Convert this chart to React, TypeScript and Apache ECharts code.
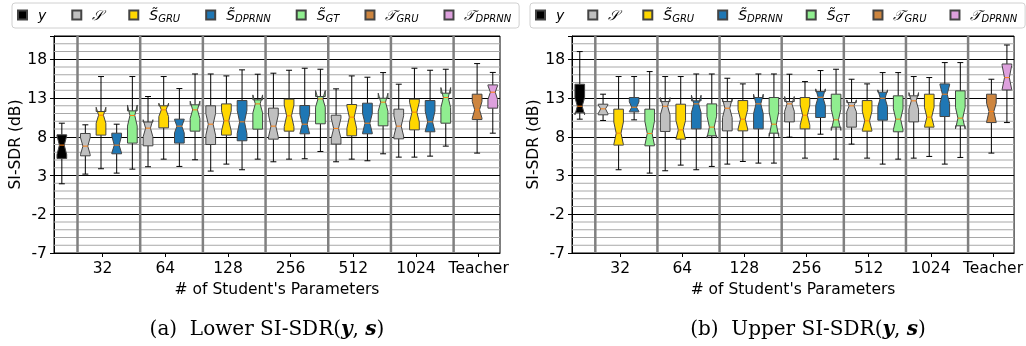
import React, { useEffect, useRef } from 'react';
import * as echarts from 'echarts';

// ---------- axis / layout data ----------
const groupLabels = ['32', '64', '128', '256', '512', '1024', 'Teacher'];
const tickPositions = [3.1, 7.1, 11.1, 15.1, 19.1, 23.1, 27.1];
const separatorPositions = [1.5, 5.5, 9.5, 13.5, 17.5, 21.5, 25.5];
const mixturePosition = [0.5];
const studentGroupStart = [2, 6, 10, 14, 18, 22]; // S, S_GRU, S_DPRNN, S_GT at +0,+1,+2,+3
const teacherPositions = [27, 28];
const minorGridValues = [-6, -5, -4, -3, -1, 0, 1, 2, 4, 5, 6, 7, 9, 10, 11, 12, 14, 15, 16, 17, 19, 20];
const X_MIN = 0;
const X_MAX = 28.46;
const Y_MIN = -7;
const Y_MAX = 21;

// stats per box: [whiskerLow, q1, median, q3, whiskerHigh, notchLow, notchHigh]
// ---------- (a) Lower SI-SDR ----------
const lowerY = [[1.93, 5.2, 6.92, 8.25, 9.75, 5.7, 8.1]];
const lowerS = [
  [3.18, 5.54, 6.79, 8.42, 9.54, 5.7, 7.9],
  [4.13, 6.83, 9.11, 9.9, 13.19, 8.0, 10.2],
  [3.57, 7.0, 9.62, 11.99, 16.1, 8.2, 11.0],
  [4.77, 7.69, 9.37, 11.69, 16.2, 8.0, 10.8],
  [4.77, 7.05, 9.07, 10.78, 14.18, 7.8, 10.4],
  [5.37, 7.73, 9.37, 11.56, 14.78, 8.1, 10.7],
];
const lowerSGRU = [
  [3.87, 8.21, 10.78, 11.26, 15.77, 9.75, 11.81],
  [5.11, 9.15, 11.47, 11.99, 15.77, 10.6, 12.33],
  [4.47, 8.21, 10.05, 12.24, 15.85, 8.75, 11.35],
  [5.11, 8.72, 10.7, 12.85, 16.58, 9.3, 12.1],
  [5.11, 8.12, 10.53, 12.16, 15.85, 9.1, 11.9],
  [5.37, 8.89, 11.17, 12.85, 16.84, 9.9, 12.45],
];
const lowerSDPRNN = [
  [3.31, 5.8, 6.92, 8.46, 9.62, 5.9, 8.1],
  [4.17, 7.18, 9.37, 10.27, 14.22, 8.5, 10.2],
  [3.74, 7.48, 9.92, 12.67, 16.63, 8.4, 11.4],
  [5.16, 8.38, 9.62, 12.03, 16.84, 8.4, 10.9],
  [4.9, 8.38, 9.75, 12.33, 15.68, 8.5, 11.0],
  [5.5, 8.64, 9.92, 12.67, 16.58, 8.7, 11.3],
];
const lowerSGT = [
  [3.82, 7.18, 10.74, 11.34, 15.77, 9.38, 12.1],
  [5.03, 8.72, 11.47, 12.12, 16.1, 10.35, 12.59],
  [5.11, 8.98, 12.24, 12.76, 16.07, 11.08, 13.4],
  [6.1, 9.67, 12.89, 13.19, 16.71, 11.82, 13.96],
  [5.8, 9.41, 12.46, 12.97, 16.28, 11.3, 13.62],
  [6.79, 9.75, 13.06, 13.62, 16.71, 11.77, 14.35],
];
const lowerTGRU = [[5.89, 10.22, 11.47, 13.49, 17.44, 10.4, 12.54]];
const lowerTDPRNN = [[8.46, 11.69, 13.75, 14.69, 16.3, 12.8, 14.6]];

// ---------- (b) Upper SI-SDR ----------
const upperY = [[10.27, 11.1, 11.94, 14.78, 18.99, 10.83, 13.05]];
const upperS = [
  [10.1, 10.83, 11.6, 12.2, 13.49, 11.0, 12.1],
  [3.61, 8.68, 11.94, 12.54, 15.77, 10.82, 13.06],
  [4.47, 8.76, 11.68, 12.54, 15.55, 10.47, 12.89],
  [7.95, 9.92, 12.24, 12.54, 16.07, 11.29, 13.19],
  [7.05, 9.24, 11.99, 12.42, 15.42, 11.22, 12.76],
  [5.24, 9.92, 12.63, 13.28, 15.77, 11.56, 13.7],
];
const upperSGRU = [
  [3.74, 6.92, 8.46, 11.56, 15.77, 7.0, 9.9],
  [4.34, 7.69, 8.89, 12.2, 15.77, 7.7, 10.1],
  [4.81, 8.76, 10.27, 12.67, 14.82, 9.0, 11.5],
  [5.24, 9.02, 10.78, 13.06, 15.12, 9.5, 12.1],
  [5.24, 8.72, 10.05, 12.67, 14.82, 8.8, 11.3],
  [5.46, 9.24, 10.53, 13.49, 15.64, 9.3, 11.8],
];
const upperSDPRNN = [
  [10.18, 11.21, 11.81, 13.06, 15.77, 11.25, 12.5],
  [3.74, 9.02, 12.24, 12.63, 16.1, 11.12, 13.36],
  [4.6, 9.02, 12.24, 13.06, 16.1, 10.99, 13.49],
  [8.33, 10.48, 13.1, 13.83, 16.54, 12.02, 14.18],
  [4.47, 10.14, 12.97, 13.75, 16.28, 11.89, 14.05],
  [4.47, 10.61, 13.49, 14.82, 17.57, 12.3, 14.7],
];
const upperSGT = [
  [3.31, 6.83, 8.42, 11.56, 16.41, 6.9, 10.0],
  [4.17, 8.12, 9.24, 12.24, 16.1, 7.82, 10.66],
  [4.6, 8.46, 9.62, 13.06, 16.1, 8.03, 11.21],
  [5.11, 9.24, 10.18, 13.49, 16.71, 8.81, 11.55],
  [5.11, 8.64, 10.27, 13.28, 16.28, 8.9, 11.6],
  [5.33, 9.41, 10.4, 13.92, 17.57, 9.02, 11.78],
];
const upperTGRU = [[5.89, 9.83, 11.25, 13.49, 15.42, 9.9, 12.33]];
const upperTDPRNN = [[9.83, 14.04, 15.63, 17.39, 19.84, 14.1, 17.2]];

// ---------- series definitions ----------
const seriesNames = ['y', 'S', 'S_GRU', 'S_DPRNN', 'S_GT', 'T_GRU', 'T_DPRNN'];
const seriesColors = ['#000000', '#c0c0c0', '#ffd700', '#1f77b4', '#90ee90', '#cd853f', '#dda0dd'];
const legendRich: Record<string, string> = {
  y: '{it|y}',
  S: '{cal|𝒮}',
  S_GRU: '{it|S\u0303}{sub|GRU}',
  S_DPRNN: '{it|S\u0303}{sub|DPRNN}',
  S_GT: '{it|S\u0303}{sub|GT}',
  T_GRU: '{cal|𝒯}{sub|GRU}',
  T_DPRNN: '{cal|𝒯}{sub|DPRNN}',
};

const BOX_W = 0.62;
const CAP_W = 0.38;
const EDGE = '#444444';

function positionsFor(typeIdx: number, count: number): number[] {
  if (typeIdx === 0) return mixturePosition;
  if (typeIdx >= 5) return [teacherPositions[typeIdx - 5]];
  return studentGroupStart.slice(0, count).map((s) => s + (typeIdx - 1));
}

function boxRender(color: string) {
  return (params: any, api: any) => {
    const x = api.value(0);
    const lo = api.value(1), q1 = api.value(2), med = api.value(3), q3 = api.value(4), hi = api.value(5);
    const nLo = api.value(6), nHi = api.value(7);
    const p = (xx: number, yy: number) => api.coord([xx, yy]);
    const L = x - BOX_W / 2, R = x + BOX_W / 2, cl = x - BOX_W / 4, cr = x + BOX_W / 4;
    const kL = x - CAP_W / 2, kR = x + CAP_W / 2;
    const pts = [p(L, q1), p(L, nLo), p(cl, med), p(L, nHi), p(L, q3), p(R, q3), p(R, nHi), p(cr, med), p(R, nLo), p(R, q1)];
    const line = (a: number[], b: number[], stroke: string) => ({
      type: 'line',
      shape: { x1: a[0], y1: a[1], x2: b[0], y2: b[1] },
      style: { stroke, lineWidth: 1 },
    });
    return {
      type: 'group',
      children: [
        line(p(x, q1), p(x, lo), '#000'),
        line(p(x, q3), p(x, hi), '#000'),
        line(p(kL, lo), p(kR, lo), '#000'),
        line(p(kL, hi), p(kR, hi), '#000'),
        { type: 'polygon', shape: { points: pts }, style: { fill: color, stroke: EDGE, lineWidth: 1 } },
        line(p(cl, med), p(cr, med), '#ff7f0e'),
      ],
    };
  };
}

const chartData = [
  [lowerY, lowerS, lowerSGRU, lowerSDPRNN, lowerSGT, lowerTGRU, lowerTDPRNN],
  [upperY, upperS, upperSGRU, upperSDPRNN, upperSGT, upperTGRU, upperTDPRNN],
];

const gridLefts = [54, 572];
const legendLefts = [12, 530];
const legendGaps = [25, 23];
const captions = ['(a)  Lower SI-SDR({b|y}, {b|s})', '(b)  Upper SI-SDR({b|y}, {b|s})'];
const captionX = [267, 808];

export default function App() {
  const ref = useRef<HTMLDivElement>(null);
  useEffect(() => {
    if (!ref.current) return;
    const chart = echarts.init(ref.current, null, { renderer: 'svg' });
    const font = 'DejaVu Sans';
    const series: any[] = [];
    chartData.forEach((sets, c) => {
      series.push({
        type: 'custom', name: '_minor' + c, xAxisIndex: c, yAxisIndex: c, z: 1, silent: true,
        data: minorGridValues.map((v) => [v]),
        renderItem: (params: any, api: any) => {
          const v = api.value(0);
          const a = api.coord([X_MIN, v]); const b = api.coord([X_MAX, v]);
          return { type: 'line', shape: { x1: a[0], y1: a[1], x2: b[0], y2: b[1] }, style: { stroke: '#a8a8a8', lineWidth: 1 } };
        },
      });
      series.push({
        type: 'custom', name: '_sep' + c, xAxisIndex: c, yAxisIndex: c, z: 1, silent: true,
        data: separatorPositions.map((v) => [v]),
        renderItem: (params: any, api: any) => {
          const v = api.value(0);
          const a = api.coord([v, Y_MIN]); const b = api.coord([v, Y_MAX]);
          return { type: 'line', shape: { x1: a[0], y1: a[1], x2: b[0], y2: b[1] }, style: { stroke: '#808080', lineWidth: 2.5 } };
        },
      });
      sets.forEach((rows, t) => {
        const xs = positionsFor(t, rows.length);
        series.push({
          type: 'custom', name: seriesNames[t], xAxisIndex: c, yAxisIndex: c, z: 3,
          itemStyle: { color: seriesColors[t], borderColor: EDGE, borderWidth: 1 },
          data: rows.map((r, i) => [xs[i], ...r]),
          renderItem: boxRender(seriesColors[t]),
        });
      });
    });

    const richLegend = {
      it: { fontFamily: font, fontStyle: 'italic', fontSize: 14, color: '#000' },
      cal: { fontFamily: font, fontStyle: 'italic', fontSize: 14, color: '#000' },
      sub: { fontFamily: font, fontStyle: 'italic', fontSize: 10, color: '#000', verticalAlign: 'bottom', padding: [6, 0, 0, 0] },
    };

    const option: any = {
      animation: false,
      legend: gridLefts.map((gl, c) => ({
        data: seriesNames,
        left: legendLefts[c],
        top: 3,
        width: 700,
        orient: 'horizontal',
        icon: 'rect',
        itemWidth: 9,
        itemHeight: 9,
        itemGap: legendGaps[c],
        padding: [5, 8, 5, 5],
        borderColor: '#d0d0d0',
        borderWidth: 1,
        borderRadius: 3,
        selectedMode: false,
        formatter: (n: string) => legendRich[n],
        textStyle: { fontFamily: font, fontSize: 14, color: '#000', padding: [0, 0, 0, 6], rich: richLegend },
      })),
      grid: gridLefts.map((gl) => ({
        left: gl, top: 36, width: 446, height: 217, show: true,
        borderColor: '#000', borderWidth: 1, backgroundColor: 'transparent',
      })),
      xAxis: gridLefts.map((gl, c) => ({
        type: 'value', gridIndex: c, min: X_MIN, max: X_MAX,
        name: "# of Student's Parameters", nameLocation: 'middle', nameGap: 25,
        nameTextStyle: { fontFamily: font, fontSize: 15.5, color: '#000' },
        axisLine: { show: true, onZero: false, lineStyle: { color: '#000', width: 1 } },
        axisTick: { show: true, customValues: tickPositions, length: 4, lineStyle: { color: '#000' } },
        axisLabel: {
          customValues: tickPositions, margin: 7, fontFamily: font, fontSize: 15.5, color: '#000',
          formatter: (v: number) => {
            const i = tickPositions.findIndex((t) => Math.abs(t - v) < 1e-6);
            return i >= 0 ? groupLabels[i] : '';
          },
        },
        splitLine: { show: false },
      })),
      yAxis: gridLefts.map((gl, c) => ({
        type: 'value', gridIndex: c, min: Y_MIN, max: Y_MAX, interval: 5,
        name: 'SI-SDR (dB)', nameLocation: 'middle', nameGap: 29,
        nameTextStyle: { fontFamily: font, fontSize: 15.5, color: '#000' },
        axisLine: { show: true, onZero: false, lineStyle: { color: '#000', width: 1 } },
        axisTick: { show: true, length: 4, lineStyle: { color: '#000' } },
        axisLabel: {
          margin: 7, fontFamily: font, fontSize: 15.5, color: '#000',
          formatter: (v: number) => (v === Y_MAX ? '' : String(v)),
        },
        splitLine: { show: true, lineStyle: { color: '#000', width: 1 } },
      })),
      graphic: captions.map((cap, c) => ({
        type: 'text', x: captionX[c], y: 328,
        style: {
          text: cap, fontFamily: 'DejaVu Serif', fontSize: 20, fill: '#000',
          align: 'center', verticalAlign: 'middle',
          rich: { b: { fontFamily: 'DejaVu Serif', fontSize: 20, fontWeight: 'bold', fontStyle: 'italic', fill: '#000' } },
        },
      })),
      series,
    };
    chart.setOption(option);
    return () => chart.dispose();
  }, []);
  return <div ref={ref} style={{ position: 'fixed', left: 0, top: 0, width: 1026, height: 346 }} />;
}
